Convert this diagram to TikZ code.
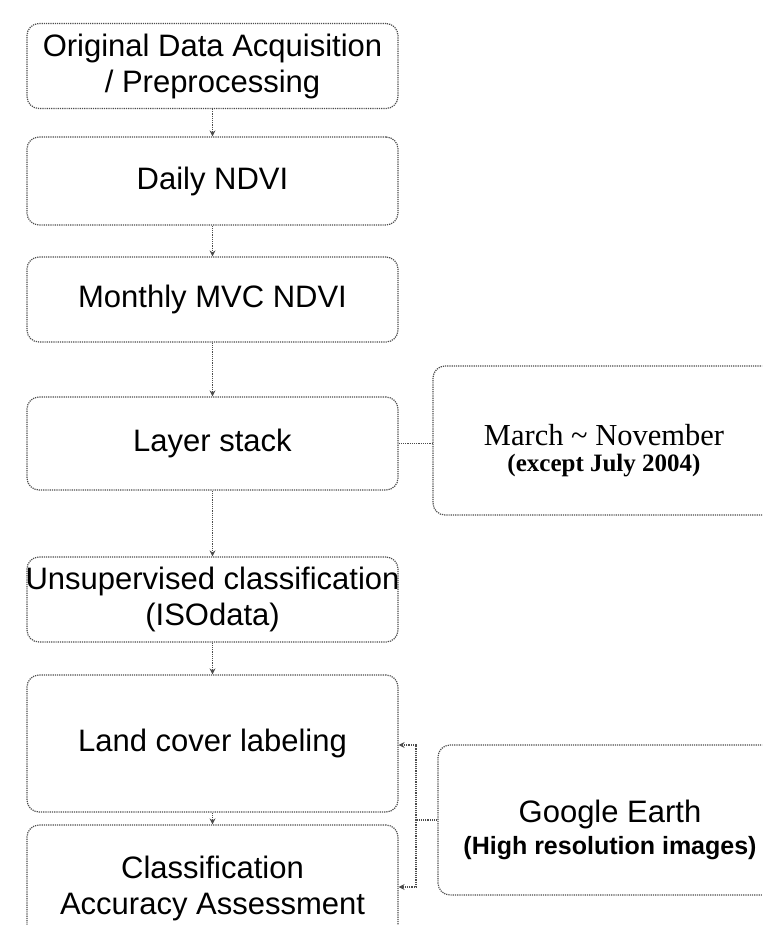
\documentclass[tikz,border=0pt]{standalone}
\usepackage{fontspec}
\setmainfont{Liberation Sans}
\newfontfamily\seriffont{Liberation Serif}
\usetikzlibrary{arrows.meta}
\newcommand{\sidetext}[2]{\raisebox{-#1}[0pt][0pt]{\parbox[t]{340pt}{\centering #2\par}}}
\begin{document}
\begin{tikzpicture}[x=1pt,y=-1pt,
  box/.style={draw=black!70, densely dotted, line width=1.2pt, rounded corners=12pt,
    minimum width=371pt, inner sep=0pt, align=center, font=\fontsize{31}{36}\selectfont},
  sidebox/.style={draw=black!70, densely dotted, line width=1.2pt, rounded corners=12pt,
    inner sep=0pt},
  conn/.style={draw=black!70, densely dotted, line width=1.2pt},
  arr/.style={conn, -{Stealth[length=6pt,width=6pt]}}]
\useasboundingbox (0,0) rectangle (762,925);
\clip (0,0) rectangle (762,925);
\fill[white] (0,0) rectangle (762,925);

\node[box, minimum height=85pt] (b1) at (212.5,66) {Original Data Acquisition\\/ Preprocessing};
\node[box, minimum height=88pt] (b2) at (212.5,181) {Daily NDVI};
\node[box, minimum height=85pt] (b3) at (212.5,299.5) {Monthly MVC NDVI};
\node[box, minimum height=93pt] (b4) at (212.5,443.5) {Layer stack};
\node[box, minimum height=85pt] (b5) at (212.5,599.5) {\makebox[360pt][c]{Unsupervised classification}\\(ISOdata)};
\node[box, minimum height=137pt] (b6) at (212.5,743.5) {Land cover labeling};
\node[box, minimum height=126pt] (b7) at (212.5,888) {Classification\\Accuracy Assessment};

\node[sidebox, minimum width=342pt, minimum height=149pt] (march) at (604,440.5)
  {\sidetext{4.5pt}{\seriffont\fontsize{30.5}{26}\selectfont March \textasciitilde{} November\\
   \bfseries\fontsize{25}{26}\selectfont (except July 2004)}};
\node[sidebox, minimum width=344pt, minimum height=150pt] (ge) at (610,820)
  {\sidetext{2pt}{\fontsize{31}{32}\selectfont Google Earth\\
   \bfseries\fontsize{25}{32}\selectfont (High resolution images)}};

\draw[arr] (b1) -- (b2);
\draw[arr] (b2) -- (b3);
\draw[arr] (b3) -- (b4);
\draw[arr] (b4) -- (b5);
\draw[arr] (b5) -- (b6);
\draw[arr] (b6) -- (b7);

\draw[conn] (b4.east) -- (b4.east -| march.west);

\coordinate (j) at (416,820);
\coordinate (jt) at (416,745);
\coordinate (jb) at (416,887);
\draw[conn] (ge.west) -- (j);
\draw[arr] (j) -- (jt) -- (jt -| b6.east);
\draw[arr] (j) -- (jb) -- (jb -| b7.east);
\end{tikzpicture}
\end{document}
